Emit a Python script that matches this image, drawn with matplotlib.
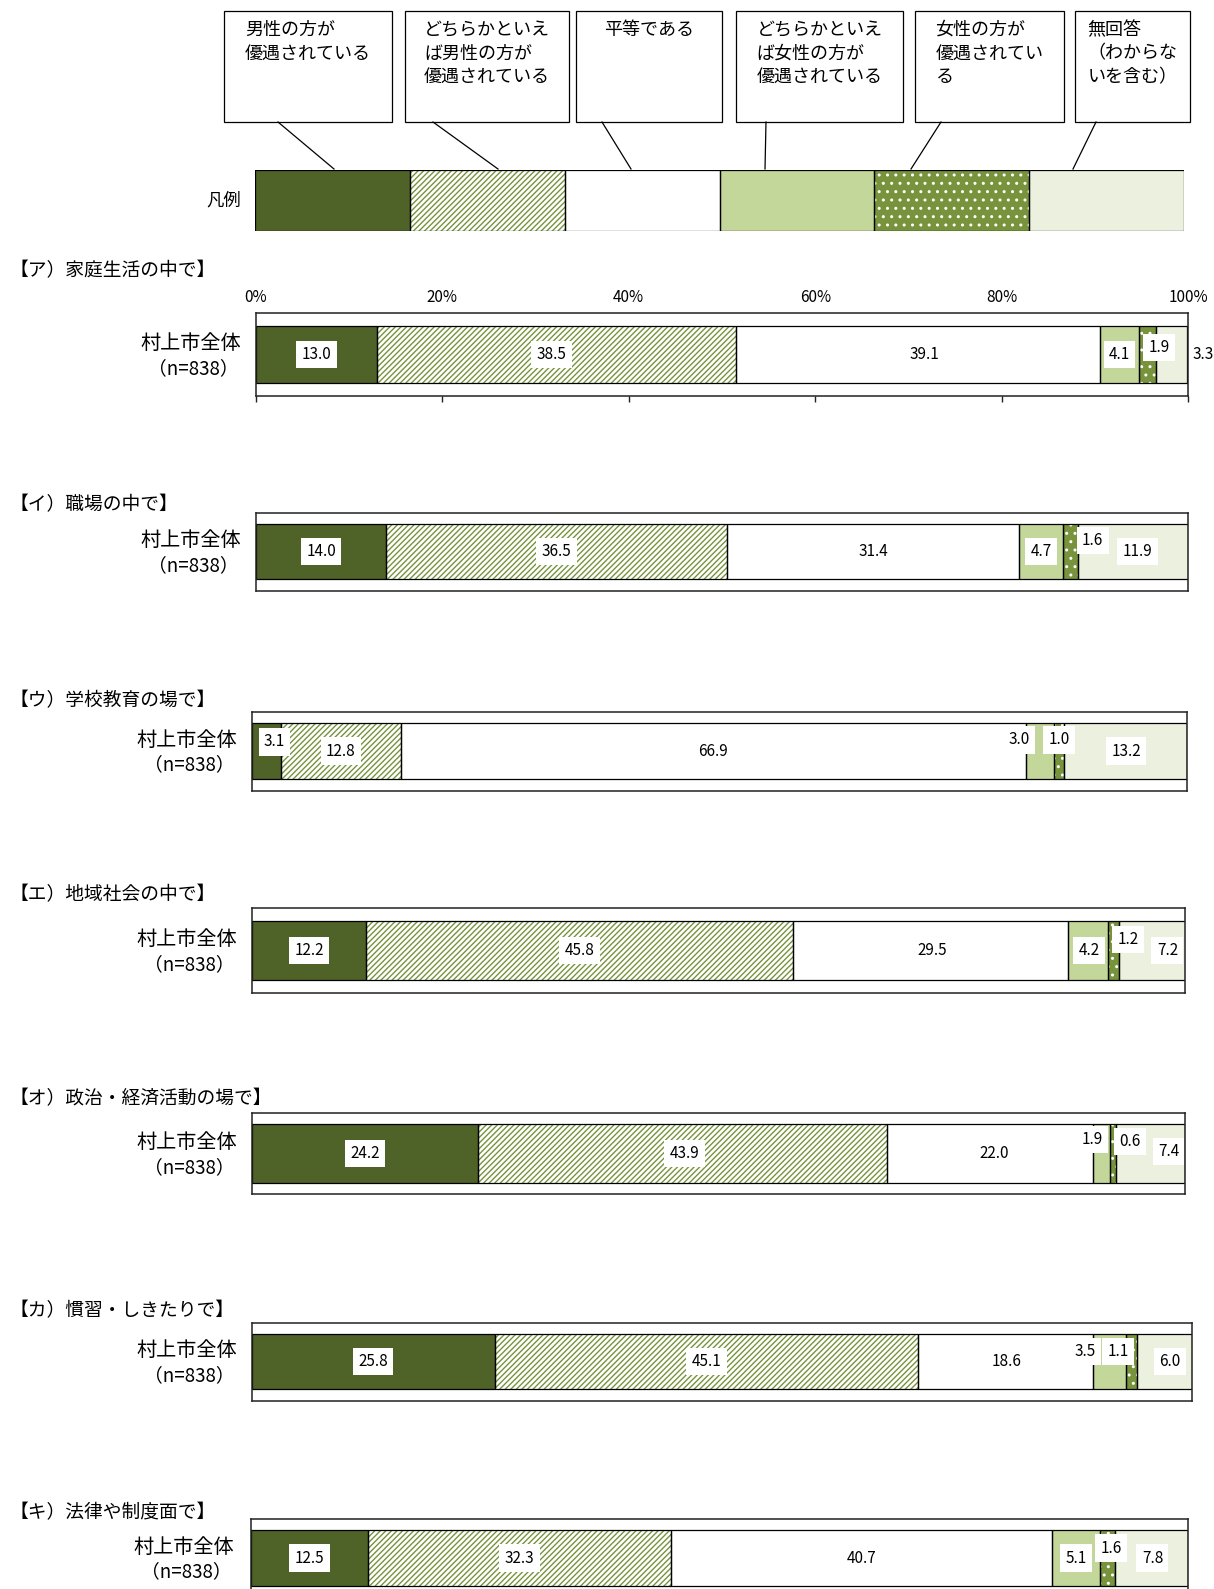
import numpy as np
import matplotlib
matplotlib.use("Agg")
import matplotlib.pyplot as plt
from matplotlib.patches import Rectangle
from matplotlib.lines import Line2D

# ---------------- data ----------------
categories = ['男性の方が優遇されている', 'どちらかといえば男性の方が優遇されている', '平等である',
              'どちらかといえば女性の方が優遇されている', '女性の方が優遇されている', '無回答（わからないを含む）']
legend_box_texts = ['男性の方が\n優遇されている', 'どちらかといえ\nば男性の方が\n優遇されている', '平等である',
                    'どちらかといえ\nば女性の方が\n優遇されている', '女性の方が\n優遇されてい\nる', '無回答\n（わからな\nいを含む）']
legend_label = '凡例'
panel_titles = ['【ア）家庭生活の中で】', '【イ）職場の中で】', '【ウ）学校教育の場で】', '【エ）地域社会の中で】',
                '【オ）政治・経済活動の場で】', '【カ）慣習・しきたりで】', '【キ）法律や制度面で】']
group_label = '村上市全体'
n_label = '（n=838）'
tick_values = [0, 20, 40, 60, 80, 100]
tick_labels = ['0%', '20%', '40%', '60%', '80%', '100%']

values_a = [13.0, 38.5, 39.1, 4.1, 1.9, 3.3]
values_i = [14.0, 36.5, 31.4, 4.7, 1.6, 11.9]
values_u = [3.1, 12.8, 66.9, 3.0, 1.0, 13.2]
values_e = [12.2, 45.8, 29.5, 4.2, 1.2, 7.2]
values_o = [24.2, 43.9, 22.0, 1.9, 0.6, 7.4]
values_ka = [25.8, 45.1, 18.6, 3.5, 1.1, 6.0]
values_ki = [12.5, 32.3, 40.7, 5.1, 1.6, 7.8]
all_values = [values_a, values_i, values_u, values_e, values_o, values_ka, values_ki]
legend_shares = [1, 1, 1, 1, 1, 1]

# ---------------- styles / layout ----------------
fills = ['#4F6228', '#FFFFFF', '#FFFFFF', '#C4D79B', '#77933C', '#EBF1DE']
hatches = [None, '//////', None, None, '..', None]
hatch_colors = [None, '#77933C', None, None, '#FFFFFF', None]

W, H = 1214, 1589
plt.rcParams['font.family'] = ['Noto Sans CJK JP', 'DejaVu Sans']
plt.rcParams['hatch.linewidth'] = 1.0
NUM_FONT = ['Liberation Sans Narrow', 'Noto Sans CJK JP', 'DejaVu Sans']

fig = plt.figure(figsize=(W / 100, H / 100), dpi=100)


def fx(x):
    return x / W


def fy(y):
    return 1 - y / H


def add_ax(x0, y0, x1, y1):
    return fig.add_axes([x0 / W, 1 - y1 / H, (x1 - x0) / W, (y1 - y0) / H])


def draw_stack(ax, vals, yc, h):
    vals = np.asarray(vals, dtype=float)
    lefts = np.concatenate([[0], np.cumsum(vals)[:-1]])
    ax.barh(yc, vals, left=lefts, height=h, color=fills, linewidth=0, zorder=2)
    for j in range(len(vals)):
        if hatches[j]:
            ax.barh(yc, vals[j], left=lefts[j], height=h, facecolor='none',
                    edgecolor=hatch_colors[j], hatch=hatches[j], linewidth=0, zorder=2.1)
    ax.barh(yc, vals, left=lefts, height=h, fill=False, edgecolor='black', linewidth=0.9, zorder=2.2)
    return lefts


# ---------------- legend section ----------------
box_x = [(224, 392), (405, 569), (576, 722), (736, 903), (915, 1064), (1075, 1190)]
box_y = (11, 122)
line_pts = [((278, 122), (334, 169)), ((433, 122), (498, 169)), ((602, 122), (631, 169)),
            ((766, 122), (765, 169)), ((941, 122), (911, 169)), ((1096, 122), (1073, 169))]
for (x0, x1), txt in zip(box_x, legend_box_texts):
    fig.add_artist(Rectangle((fx(x0), fy(box_y[1])), (x1 - x0) / W, (box_y[1] - box_y[0]) / H,
                             transform=fig.transFigure, facecolor='white', edgecolor='black', linewidth=0.9))
    fig.text(fx((x0 + x1) / 2), fy(21), txt, ha='center', va='top', multialignment='left',
             fontsize=13, linespacing=1.4)
for (p0, p1) in line_pts:
    fig.add_artist(Line2D([fx(p0[0]), fx(p1[0])], [fy(p0[1]), fy(p1[1])],
                          transform=fig.transFigure, color='black', linewidth=0.9))

lax = add_ax(255, 170, 1184, 231)
draw_stack(lax, legend_shares, 0.5, 1.0)
lax.set_xlim(0, sum(legend_shares))
lax.set_ylim(0, 1)
lax.axis('off')
fig.text(fx(241), fy(201), legend_label, ha='right', va='center', fontsize=12.5)

# ---------------- panels ----------------
# (x0, x1, axis_top, axis_bottom, bar_top, bar_bottom, title_y, label_right)
panel_layout = [
    (256, 1188, 313, 396, 326, 383, 271, 241),
    (256, 1188, 513, 591, 524, 579, 505, 241),
    (252, 1187, 712, 791, 723, 779, 701, 237),
    (252, 1185, 908, 993, 921, 980, 895, 237),
    (252, 1185, 1113, 1194, 1124, 1183, 1099, 237),
    (252, 1192, 1323, 1401, 1334, 1389, 1311, 237),
    (251, 1188, 1519, 1598, 1530, 1586, 1513, 234),
]
# per-label offsets in pixels (dx, dy up)
label_offsets = [
    [(0, 0), (-5, 0), (6, 0), (0, 0), (12, 7), (31, 0)],
    [(0, 0), (0, 0), (0, 0), (0, 0), (22, 11), (4, 0)],
    [(8, 9), (0, 0), (0, 0), (-21, 11), (0, 11), (1, 0)],
    [(0, 0), (0, 0), (1, 0), (1, 0), (15, 11), (15, 0)],
    [(0, 0), (2, 0), (4, 0), (-9, 14), (17, 12), (18, 2)],
    [(0, 0), (0, 0), (1, 0), (-25, 10), (-13, 10), (5, 0)],
    [(0, 0), (0, 0), (0, 0), (0, 0), (4, 10), (1, 0)],
]
no_box = {(0, 5)}

for p, (title, vals, lay, offs) in enumerate(zip(panel_titles, all_values, panel_layout, label_offsets)):
    x0, x1, at, ab, bt, bb, ty, lr = lay
    ax = add_ax(x0, at, x1, ab)
    ax.set_xlim(0, 100)
    ax.set_ylim(ab, at)
    yc = (bt + bb) / 2
    lefts = draw_stack(ax, vals, yc, bb - bt)
    for sp in ax.spines.values():
        sp.set_color('#222222')
        sp.set_linewidth(1.1)
    ax.set_yticks([])
    if p == 0:
        ax.set_xticks(tick_values)
        ax.set_xticklabels(tick_labels, fontfamily=NUM_FONT, fontsize=11)
        ax.tick_params(axis='x', top=False, bottom=True, labeltop=True, labelbottom=False,
                       direction='out', length=4, width=1.0, color='#222222', pad=1)
    else:
        ax.set_xticks([])
    for j, v in enumerate(vals):
        dx, dy = offs[j]
        bbox = None if (p, j) in no_box else dict(boxstyle='square,pad=0.35', facecolor='white',
                                                     edgecolor='none')
        ax.annotate(f'{v:.1f}', xy=(lefts[j] + v / 2, yc), xytext=(dx, dy), textcoords='offset pixels',
                    ha='center', va='center', fontsize=11, fontfamily=NUM_FONT, bbox=bbox,
                    zorder=5, annotation_clip=False)
    fig.text(fx(10), fy(ty), title, ha='left', va='center', fontsize=13.5)
    fig.text(fx(lr), fy(yc - 11), group_label, ha='right', va='center', fontsize=14.5)
    fig.text(fx(lr - 2), fy(yc + 14), n_label, ha='right', va='center', fontsize=13.5,
             fontfamily=['Noto Sans CJK JP', 'DejaVu Sans'])

fig.savefig('out.png', dpi=100)
